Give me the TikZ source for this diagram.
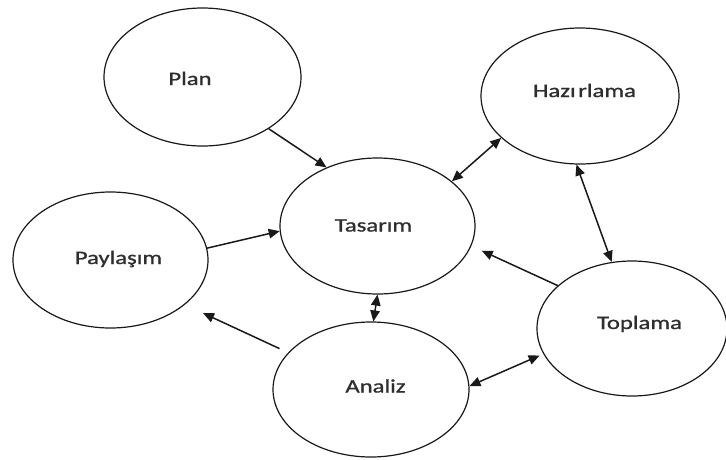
\documentclass[tikz,border=0pt]{standalone}
\usepackage{fontspec}
\setmainfont{Carlito}
\newfontfamily\labelfont{Carlito}[FakeBold=0.9]
\usetikzlibrary{shapes.geometric,arrows.meta}
\newcommand\widetext[1]{\scalebox{1.3}[1]{#1}}
\tikzset{
  stage/.style={ellipse, draw=black!90, line width=1.2pt, inner sep=0pt},
  stagename/.style={anchor=base, inner sep=0pt, text=black!82,
    font=\labelfont\fontsize{19}{22}\selectfont},
  tip/.tip={Triangle[length=11pt,width=9.5pt]},
  link/.style={line width=1.5pt, draw=black!90, -tip},
  twoway/.style={line width=1.5pt, draw=black!90, tip-tip}
}
\begin{document}
\begin{tikzpicture}[x=1pt,y=-1pt]
\useasboundingbox (0,0) rectangle (726,459);

% process stages
\node[stage, minimum width=197pt, minimum height=138pt] (plan) at (202.5,77) {};
\node[stage, minimum width=198pt, minimum height=136pt] (haz)  at (580,96) {};
\node[stage, minimum width=195pt, minimum height=136pt] (pay)  at (110.5,260) {};
\node[stage, minimum width=195pt, minimum height=136pt] (tas)  at (377.5,226) {};
\node[stage, minimum width=196pt, minimum height=135pt] (ana)  at (371,389.5) {};
\node[stage, minimum width=190pt, minimum height=135pt] (topl) at (632,328.5) {};

% stage names
\node[stagename] (planlbl) at (190,85)    {\widetext{Plan}};
\node[stagename] (hazlbl)  at (584.5,97)  {\widetext{Hazı\kern2pt rlama}};
\node[stagename] (paylbl)  at (118.5,264) {\widetext{Paylaşım}};
\node[stagename] (taslbl)  at (373.5,231.5) {\widetext{Tasarım}};
\node[stagename] (analbl)  at (375.5,392.5) {\widetext{Analiz}};
\node[stagename] (toplbl)  at (639.5,329)  {\widetext{Toplama}};

% flows between stages
\draw[link] (plan.-38) -- (tas.131);
\draw[twoway] (tas.31) -- (haz.208);
\draw[twoway] (haz.-93) -- (topl.107);
\draw[link] (pay.7.5) -- (tas.183.5);
\draw[link, shorten <=9.5pt, shorten >=20pt] (ana.156) -- (pay.-31.3);
\draw[link, shorten >=11.4pt] (topl.150) -- (tas.-12.3);
\draw[twoway] (tas.-90) -- (ana.88);
\draw[twoway, shorten >=4pt] (ana.2.6) -- (topl.196);
\end{tikzpicture}
\end{document}
